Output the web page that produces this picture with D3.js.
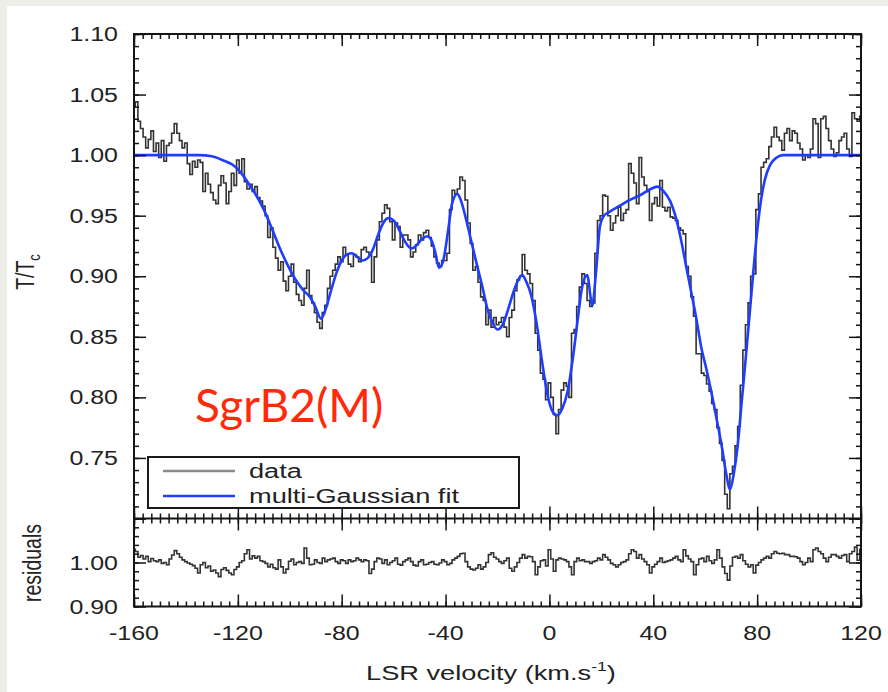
<!DOCTYPE html>
<html>
<head>
<meta charset="utf-8">
<script src="https://cdn.jsdelivr.net/npm/d3@7"></script>
<style>
  html, body { margin: 0; padding: 0; background: #eeeee9; }
  svg { display: block; }
</style>
</head>
<body>
<svg id="chart" width="888" height="692"></svg>
<script>
// Absorption spectrum toward SgrB2(M): observed line-to-continuum ratio,
// multi-Gaussian fit and residuals, on a 1 km/s channel grid.
const channelStart = -160;   // km/s, first channel
const channelWidth = 1;      // km/s per channel

const spectrum = [
  1.040,1.044,1.028,1.022,1.015,1.006,1.013,1.020,1.003,1.010,
  0.998,1.012,0.995,1.008,1.010,1.018,1.026,1.018,1.012,1.006,
  1.010,0.993,0.984,0.995,0.990,0.996,0.994,0.970,0.985,0.976,
  0.969,0.963,0.960,0.975,0.983,0.977,0.960,0.970,0.985,0.975,
  0.996,0.985,0.997,0.978,0.972,0.976,0.970,0.974,0.965,0.962,
  0.958,0.950,0.932,0.940,0.924,0.915,0.905,0.912,0.896,0.888,
  0.900,0.910,0.895,0.885,0.880,0.876,0.890,0.905,0.884,0.878,
  0.870,0.862,0.857,0.870,0.876,0.890,0.900,0.905,0.910,0.916,
  0.912,0.924,0.918,0.910,0.908,0.918,0.916,0.912,0.922,0.924,
  0.920,0.918,0.895,0.916,0.930,0.945,0.952,0.959,0.956,0.945,
  0.930,0.944,0.941,0.924,0.934,0.934,0.930,0.916,0.920,0.926,
  0.934,0.930,0.936,0.938,0.932,0.925,0.916,0.911,0.908,0.913,
  0.913,0.919,0.955,0.971,0.968,0.972,0.982,0.979,0.963,0.944,
  0.927,0.905,0.908,0.895,0.883,0.880,0.860,0.872,0.858,0.866,
  0.860,0.862,0.866,0.858,0.850,0.866,0.872,0.888,0.897,0.900,
  0.918,0.905,0.902,0.894,0.880,0.853,0.839,0.820,0.815,0.798,
  0.812,0.800,0.786,0.770,0.790,0.806,0.812,0.809,0.800,0.853,
  0.856,0.875,0.891,0.902,0.894,0.880,0.875,0.878,0.919,0.946,
  0.950,0.967,0.966,0.950,0.938,0.944,0.950,0.957,0.946,0.952,
  0.955,0.993,0.985,0.977,0.960,0.998,0.982,0.975,0.970,0.946,
  0.960,0.965,0.958,0.979,0.957,0.954,0.957,0.949,0.948,0.946,
  0.940,0.938,0.935,0.908,0.900,0.883,0.867,0.836,0.836,0.820,
  0.818,0.811,0.805,0.795,0.790,0.775,0.762,0.748,0.720,0.708,
  0.737,0.743,0.760,0.776,0.810,0.839,0.860,0.878,0.900,0.902,
  0.955,0.968,0.990,0.994,0.997,1.007,1.015,1.023,1.015,1.012,
  1.004,1.018,1.022,1.012,1.020,1.018,1.010,1.005,0.996,1.000,
  0.998,1.005,1.030,1.026,0.998,1.030,1.032,1.022,1.012,1.005,
  0.999,1.002,1.012,1.015,1.018,1.005,0.999,1.035,1.030,1.028,
  1.032
];

const residuals = [
  1.030,1.025,1.012,1.016,1.008,1.014,1.002,1.009,1.004,1.002,
  1.006,0.998,1.000,0.995,1.008,1.017,1.027,1.020,1.012,1.006,
  1.002,0.999,0.996,0.993,0.987,0.976,0.995,1.000,0.988,0.992,
  0.980,0.983,0.976,0.968,0.984,0.988,0.982,0.976,0.972,0.984,
  0.990,1.000,1.004,1.020,1.029,1.008,1.015,1.010,1.014,1.004,
  1.002,0.998,0.990,0.996,0.988,0.985,1.006,0.990,0.976,0.985,
  1.003,1.008,0.995,1.000,1.002,0.998,1.033,1.010,0.995,0.996,
  1.006,1.000,0.998,1.010,1.002,1.006,1.008,1.010,1.002,0.998,
  1.006,1.004,0.998,1.006,1.002,1.004,1.010,1.006,1.002,1.006,
  1.004,0.975,0.985,1.002,1.010,1.008,0.998,1.006,0.995,1.000,
  1.004,1.010,0.996,0.994,1.002,1.006,1.010,1.002,0.994,0.992,
  1.002,1.006,0.995,0.996,1.000,1.002,0.996,0.995,0.999,1.006,
  1.002,0.995,0.998,1.006,1.010,1.014,1.020,1.021,1.002,0.990,
  0.985,0.983,0.987,0.995,0.985,0.990,1.000,1.018,1.022,1.012,
  1.008,1.002,0.998,1.004,1.010,0.987,0.980,0.990,1.000,1.010,
  1.018,1.010,1.014,1.013,1.002,0.972,0.990,1.004,1.006,0.992,
  1.029,1.008,0.980,1.006,1.010,1.008,1.006,1.002,0.990,0.972,
  1.002,1.010,1.004,1.006,1.002,1.002,0.998,1.002,1.004,1.010,
  1.006,1.018,1.012,1.006,0.998,0.995,0.990,0.995,1.000,1.002,
  1.006,1.020,1.029,1.025,1.010,1.018,1.008,1.002,0.995,0.976,
  0.990,0.996,1.002,1.010,1.000,1.002,1.004,1.006,1.010,1.014,
  1.006,1.002,1.029,1.015,1.008,1.002,0.972,0.995,1.008,1.010,
  1.002,1.014,1.004,0.998,1.006,1.029,1.010,0.990,0.975,0.960,
  0.992,1.012,1.014,1.010,1.018,1.004,0.996,0.990,0.995,0.976,
  0.994,1.000,1.006,1.010,1.014,1.010,1.020,1.025,1.021,1.020,
  1.021,1.018,1.018,1.014,1.014,1.013,1.010,1.002,0.995,1.000,
  1.010,1.002,1.029,1.033,1.025,1.020,1.010,1.002,1.012,1.018,
  1.018,1.014,1.010,1.016,1.018,1.002,1.020,1.025,1.035,1.005,
  1.030
];

// Multi-Gaussian model, sampled at these velocities
const fitVelocity = [
  -160,-140,-135,-130,-126,-122,-119,-116,-113,-110,-107,-104,-101,-98,-95,-92,-90,-88,-86,-84,
  -82,-80,-78,-76,-74,-72,-70,-68,-66,-64,-62,-60,-58,-56,-54,-53,-51,-49,-47,-45.5,
  -44,-42.5,-41,-39,-37.5,-35.5,-34,-32,-30,-28,-26,-24,-22,-20,-18,-16,-14,-12,-10.5,-9,
  -7,-5,-3,-1,1,3,5,7,9,11,12.5,14.5,16.5,18,19.5,21,23,27,31,35,
  39,41.5,44,46.5,48.5,50.5,52.5,54.5,56.5,58.5,60.5,62.5,64.5,66.5,68,69.6,71,72.5,74,75.5,
  77,78.5,80,81.5,83,85,87.5,90,120
];
const fitValue = [
  1.000,1.000,1.000,0.999,0.996,0.992,0.986,0.977,0.967,0.955,0.940,0.924,0.910,0.898,0.889,0.882,0.874,0.865,0.874,0.889,
  0.903,0.913,0.918,0.919,0.916,0.913,0.915,0.922,0.934,0.944,0.948,0.946,0.939,0.930,0.924,0.923,0.926,0.931,0.933,0.930,
  0.920,0.907,0.912,0.938,0.960,0.968,0.962,0.946,0.928,0.910,0.893,0.874,0.862,0.856,0.860,0.872,0.886,0.897,0.901,0.896,
  0.884,0.862,0.832,0.805,0.789,0.785,0.791,0.805,0.832,0.866,0.890,0.901,0.876,0.905,0.942,0.950,0.953,0.958,0.963,0.967,
  0.972,0.974,0.970,0.962,0.950,0.932,0.910,0.888,0.866,0.841,0.823,0.803,0.781,0.758,0.738,0.724,0.737,0.760,0.795,0.830,
  0.866,0.903,0.937,0.963,0.980,0.992,0.998,1.000,1.000
];

const seriesNames = ["data", "multi-Gaussian fit"];
const xTickValues = [-160, -120, -80, -40, 0, 40, 80, 120];
const mainYTickValues = [0.75, 0.80, 0.85, 0.90, 0.95, 1.00, 1.05, 1.10];
const residYTickValues = [0.90, 1.00];

const velocities = spectrum.map((_, i) => channelStart + i * channelWidth);

// ---- layout ----
const W = 888, H = 692;
const left = 134, right = 861;
const mainTop = 34, split = 518.5, residBottom = 606.5;
const stretch = 1.28;               // horizontal stretch of all lettering
const inkColor = "#222222";
const dataColor = "#333333";
const fitColor = "#1f3dff";

const svg = d3.select("#chart");
svg.append("rect").attr("x", 7).attr("y", 6).attr("width", W - 7).attr("height", H - 6).attr("fill", "#ffffff");

const x = d3.scaleLinear().domain([-160, 120]).range([left, right]);
const yMain = d3.scaleLinear().domain([0.70, 1.10]).range([split, mainTop]);
const yRes = d3.scaleLinear().domain([0.90, 1.10]).range([residBottom, split]);

function label(g, px, py, s, anchor, size, rotate, sx) {
  const t = g.append("text")
    .attr("transform", `translate(${px},${py}) scale(${sx || stretch},1)` + (rotate ? " rotate(-90)" : ""))
    .attr("text-anchor", anchor)
    .attr("font-family", "'Liberation Sans', Arial, Helvetica, sans-serif")
    .attr("font-size", size)
    .attr("fill", inkColor);
  if (s !== null) t.text(s);
  return t;
}

// ---- clip paths ----
const defs = svg.append("defs");
defs.append("clipPath").attr("id", "clipMain").append("rect")
  .attr("x", left).attr("y", mainTop).attr("width", right - left).attr("height", split - mainTop);
defs.append("clipPath").attr("id", "clipRes").append("rect")
  .attr("x", left).attr("y", split).attr("width", right - left).attr("height", residBottom - split);

// ---- series ----
const dataLine = d3.line().x((d, i) => x(velocities[i])).y(d => yMain(d)).curve(d3.curveStep);
const resLine = d3.line().x((d, i) => x(velocities[i])).y(d => yRes(d)).curve(d3.curveStep);
const fitLine = d3.line().x((d, i) => x(fitVelocity[i])).y(d => yMain(d)).curve(d3.curveMonotoneX);

svg.append("path").datum(spectrum).attr("clip-path", "url(#clipMain)")
  .attr("d", dataLine).attr("fill", "none").attr("stroke", dataColor).attr("stroke-width", 1.6);
svg.append("path").datum(fitValue).attr("clip-path", "url(#clipMain)")
  .attr("d", fitLine).attr("fill", "none").attr("stroke", fitColor).attr("stroke-width", 2.6);
svg.append("path").datum(residuals).attr("clip-path", "url(#clipRes)")
  .attr("d", resLine).attr("fill", "none").attr("stroke", dataColor).attr("stroke-width", 1.6);

// ---- ticks (all pointing inward) ----
const xMinor = d3.range(0, 85).map(i => -160 + i * 40 / 12);
const mainMinor = d3.range(70, 111).map(i => i / 100);
const resMinor = d3.range(45, 56).map(i => i / 50);
const mainMajor = [0.70].concat(mainYTickValues);
const resMajor = [0.90, 1.00, 1.10];

function ticks(gen, tx, ty, values, size) {
  const g = svg.append("g").attr("transform", `translate(${tx},${ty})`)
    .call(gen.tickValues(values).tickSize(-size).tickFormat(""));
  g.select(".domain").remove();
  g.selectAll("line").attr("stroke", "#151515").attr("stroke-width", 1.5);
}
[[d3.axisTop, mainTop], [d3.axisBottom, split], [d3.axisTop, split], [d3.axisBottom, residBottom]]
  .forEach(([make, ty]) => {
    ticks(make(x), 0, ty, xMinor, 5);
    ticks(make(x), 0, ty, xTickValues, 12);
  });
ticks(d3.axisLeft(yMain), left, 0, mainMinor, 5);
ticks(d3.axisLeft(yMain), left, 0, mainMajor, 12);
ticks(d3.axisRight(yMain), right, 0, mainMinor, 5);
ticks(d3.axisRight(yMain), right, 0, mainMajor, 12);
ticks(d3.axisLeft(yRes), left, 0, resMinor, 5);
ticks(d3.axisLeft(yRes), left, 0, resMajor, 12);
ticks(d3.axisRight(yRes), right, 0, resMinor, 5);
ticks(d3.axisRight(yRes), right, 0, resMajor, 12);

// ---- frames ----
svg.append("rect").attr("x", left).attr("y", mainTop).attr("width", right - left).attr("height", residBottom - mainTop)
  .attr("fill", "none").attr("stroke", "#151515").attr("stroke-width", 2);
svg.append("line").attr("x1", left).attr("x2", right).attr("y1", split).attr("y2", split)
  .attr("stroke", "#151515").attr("stroke-width", 2);

// ---- tick labels ----
const fmt = d3.format(".2f");
mainYTickValues.forEach(v => label(svg, left - 16, yMain(v) + 7, fmt(v), "end", 19.5));
residYTickValues.forEach(v => label(svg, left - 16, yRes(v) + 7, fmt(v), "end", 19.5));
xTickValues.forEach(v => label(svg, x(v), 640, String(v), "middle", 19.5));

// ---- axis titles ----
const yt = label(svg, 34, 272, null, "middle", 19.5, true);
yt.append("tspan").text("T/T");
yt.append("tspan").attr("font-size", 13).attr("dy", 5).text("c");
label(svg, 41, 563, "residuals", "middle", 19.5, true);
const xt = label(svg, 491, 680, null, "middle", 20, false, 1.36);
xt.append("tspan").text("LSR velocity (km.s");
xt.append("tspan").attr("font-size", 13).attr("dy", -9).text("-1");
xt.append("tspan").attr("dy", 9).text(")");

// ---- legend ----
const lg = svg.append("g");
lg.append("rect").attr("x", 148).attr("y", 457).attr("width", 371).attr("height", 51)
  .attr("fill", "#ffffff").attr("stroke", "#1a1a1a").attr("stroke-width", 2);
const legendColors = ["#8a8a8a", fitColor];
seriesNames.forEach((name, i) => {
  const yy = 471 + i * 25;
  lg.append("line").attr("x1", 163).attr("x2", 235).attr("y1", yy).attr("y2", yy)
    .attr("stroke", legendColors[i]).attr("stroke-width", 2.4);
  label(lg, 249, yy + 7, name, "start", 20, false, 1.36);
});

// ---- source name ----
svg.append("text").attr("x", 195).attr("y", 422)
  .attr("font-family", "Lato, 'Open Sans', sans-serif").attr("font-size", 46)
  .attr("fill", "#ff2a0a").text("SgrB2(M)");
</script>
</body>
</html>
